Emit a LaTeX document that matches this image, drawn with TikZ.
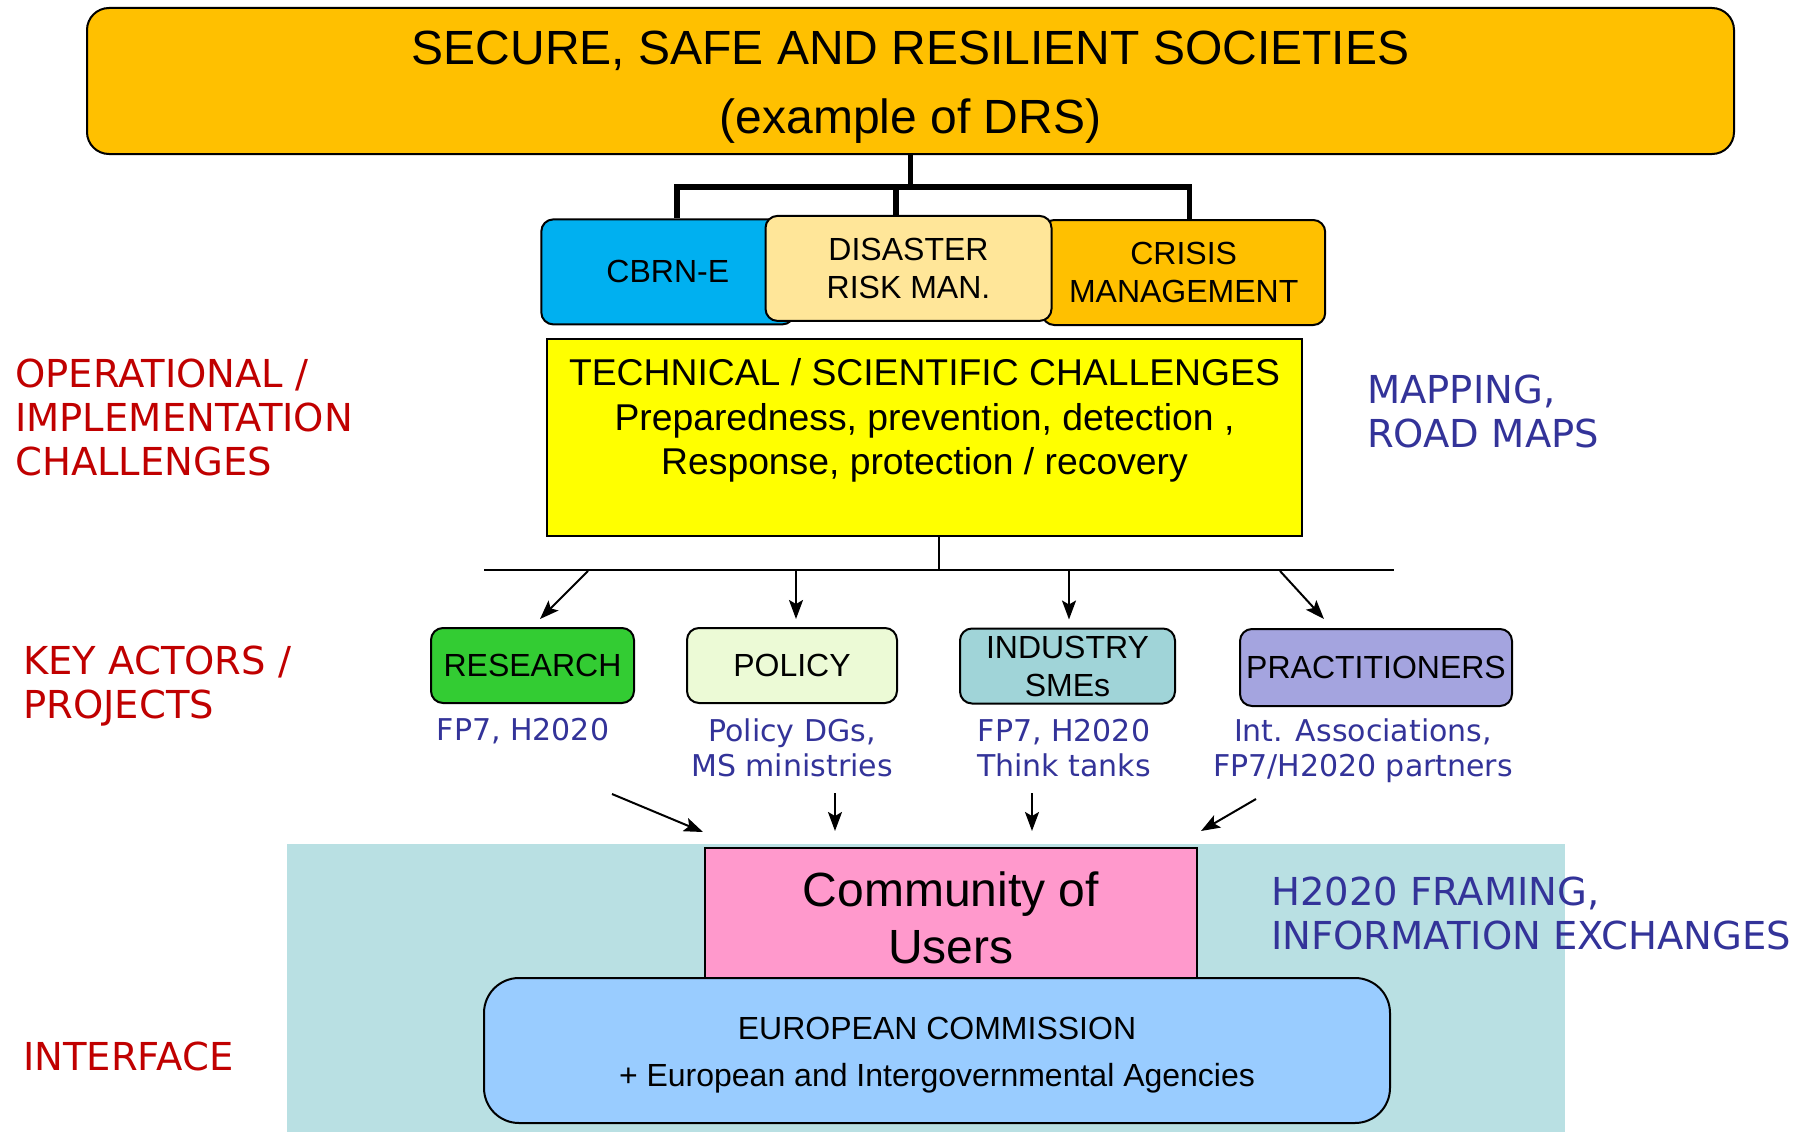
\documentclass[tikz,border=0pt]{standalone}
\usepackage{fontspec}
\setmainfont{Liberation Sans}
\newfontfamily\verd{DejaVu Sans}
\usetikzlibrary{arrows.meta}
\definecolor{gold}{RGB}{255,192,0}
\definecolor{cbrnc}{RGB}{0,176,240}
\definecolor{disc}{RGB}{255,230,153}
\definecolor{techc}{RGB}{255,255,0}
\definecolor{resc}{RGB}{51,204,51}
\definecolor{polc}{RGB}{236,250,214}
\definecolor{indc}{RGB}{160,212,216}
\definecolor{prac}{RGB}{164,164,223}
\definecolor{tealbg}{RGB}{185,224,227}
\definecolor{commc}{RGB}{255,153,204}
\definecolor{ecc}{RGB}{153,204,255}
\definecolor{myred}{RGB}{192,0,0}
\definecolor{myblue}{RGB}{51,51,153}
\begin{document}
\begin{tikzpicture}[x=1pt,y=-1pt,
  box/.style={draw=black, line width=2pt, rounded corners=12pt, inner sep=0pt, align=center, font=\fontsize{32}{38}\selectfont},
  bus/.style={line width=5.5pt},
  arr/.style={line width=2pt, -{Stealth[length=19pt,width=14pt,inset=4pt]}},
  redlbl/.style={text=myred, font=\verd\fontsize{38.5}{44}\selectfont, align=left, anchor=west, inner sep=0pt},
  bluelbl/.style={text=myblue, font=\verd\fontsize{38.5}{44}\selectfont, align=left, anchor=west, inner sep=0pt},
  sublbl/.style={text=myblue, font=\verd\fontsize{30}{35}\selectfont, align=center, inner sep=0pt}]
\useasboundingbox (0,0) rectangle (1810,1132);

% background panel
\fill[tealbg] (287,844) rectangle (1565,1132);

% top box
\node[box, fill=gold, rounded corners=22pt, minimum width=1647pt, minimum height=146pt] (top) at (910.5,81) {};
\node[align=center, inner sep=0pt, font=\fontsize{48}{69}\selectfont] (toptxt) at (910.5,87)
  {SECURE, SAFE AND RESILIENT SOCIETIES\\(example of DRS)};

% three domain boxes
\node[box, fill=cbrnc, minimum width=253pt, minimum height=105pt] (cbrn) at (667.8,271.9) {CBRN-E};
\node[box, fill=gold, minimum width=283pt, minimum height=105pt] (crisis) at (1183.7,272.5) {CRISIS\\MANAGEMENT};
\node[box, fill=disc, minimum width=286pt, minimum height=105pt] (dis) at (908.5,268.4) {DISASTER\\RISK MAN.};

% bus connector
\coordinate (busy) at (0,187);
\draw[bus] (top.south) -- (top.south |- busy);
\draw[bus] ([xshift=9pt]cbrn.north) -- ([xshift=9pt]cbrn.north |- busy) -- ([xshift=6pt]crisis.north |- busy) -- ([xshift=6pt]crisis.north);
\draw[bus] ([xshift=-12.5pt]dis.north) -- ([xshift=-12.5pt]dis.north |- busy);

% technical box
\node[draw=black, line width=2pt, fill=techc, minimum width=755pt, minimum height=197pt] (tech) at (924.5,437.5) {};
\node[align=center, inner sep=0pt, font=\fontsize{37.3}{44.5}\selectfont] (techtxt) at (924.5,420.5)
  {TECHNICAL / SCIENTIFIC CHALLENGES\\Preparedness, prevention, detection ,\\Response, protection / recovery};

% distribution line
\coordinate (lineL) at (484,570);
\coordinate (lineR) at (1394,570);
\draw[line width=2pt] ([xshift=14pt]tech.south) -- ([xshift=14pt]tech.south |- lineL);
\draw[line width=2pt] (lineL) -- (lineR);

% actor boxes
\node[box, fill=resc, minimum width=203pt, minimum height=75pt] (res) at (532.5,665.5) {RESEARCH};
\node[box, fill=polc, minimum width=210pt, minimum height=75pt] (pol) at (792,665.5) {POLICY};
\node[box, fill=indc, minimum width=215pt, minimum height=75pt] (ind) at (1067.5,666) {INDUSTRY\\SMEs};
\node[box, fill=prac, minimum width=272pt, minimum height=77pt] (pra) at (1376,667.5) {PRACTITIONERS};

\coordinate (sA) at (588,571);
\coordinate (sB) at (796,571);
\coordinate (sC) at (1069,571);
\coordinate (sD) at (1280,571);
\draw[arr] (sA) -- ([shift={(7.5pt,8pt)}]res.north);
\draw[arr] (sB) -- ([shift={(4pt,8pt)}]pol.north);
\draw[arr] (sC) -- ([shift={(1.5pt,8pt)}]ind.north);
\draw[arr] (sD) -- ([shift={(-52pt,9pt)}]pra.north);

% sub labels
\node[sublbl] (resl) at (523,731) {FP7, H2020};
\node[sublbl] (poll) at (792,748) {Policy DGs,\\MS ministries};
\node[sublbl] (indl) at (1064,748) {FP7, H2020\\Think tanks};
\node[sublbl] (pral) at (1363,750.5) {Int. Associations,\\FP7/H2020 partners};

% community of users
\node[draw=black, line width=2pt, fill=commc, minimum width=492pt, minimum height=131pt] (comm) at (951,913.5) {};
\node[align=center, inner sep=0pt, font=\fontsize{48}{57}\selectfont] (commtxt) at (951,918) {Community of\\Users};

\coordinate (tA) at (612,794);
\coordinate (tB) at (835,793);
\coordinate (tC) at (1032,793);
\coordinate (tD) at (1256,799);
\draw[arr] (tA) -- ([shift={(-1pt,15pt)}]comm.north west);
\draw[arr] (tB) -- ([shift={(-116pt,16pt)}]comm.north);
\draw[arr] (tC) -- ([shift={(81pt,16pt)}]comm.north);
\draw[arr] (tD) -- ([shift={(3pt,16pt)}]comm.north east);

% european commission
\node[box, fill=ecc, rounded corners=35pt, minimum width=906pt, minimum height=145pt] (ec) at (937,1050.5) {};
\node[align=center, inner sep=0pt, font=\fontsize{32}{47}\selectfont] (ectxt) at (937,1055.5)
  {EUROPEAN COMMISSION\\+ European and Intergovernmental Agencies};

% side labels
\node[redlbl] (opl) at (15,417.5) {OPERATIONAL /\\IMPLEMENTATION\\CHALLENGES};
\node[redlbl] (kal) at (23,686.5) {KEY ACTORS /\\PROJECTS};
\node[redlbl] (ifl) at (23,1056) {INTERFACE};
\node[bluelbl] (mapl) at (1367,411) {MAPPING,\\ROAD MAPS};
\node[bluelbl] (h2l) at (1271,913) {H2020 FRAMING,\\INFORMATION EXCHANGES};
\end{tikzpicture}
\end{document}
